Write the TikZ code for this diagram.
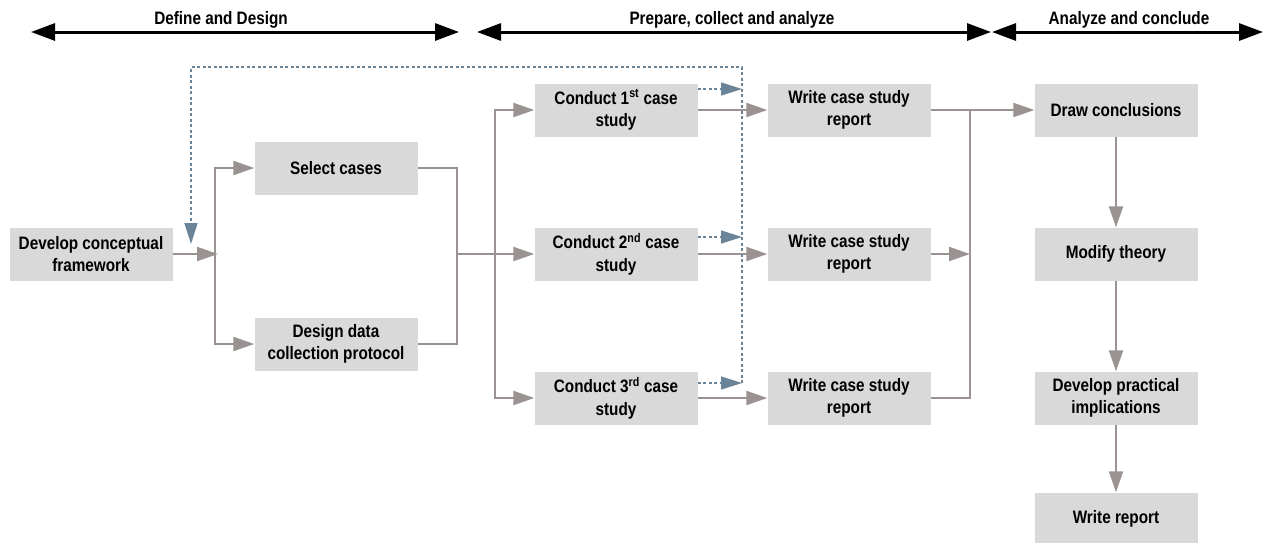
\documentclass[tikz,border=0pt]{standalone}
\usepackage{fontspec}
\setmainfont{Liberation Sans}[FakeStretch=0.85]
\usetikzlibrary{arrows.meta}
\definecolor{boxgray}{HTML}{D9D9D9}
\definecolor{lnk}{HTML}{9B9292}
\definecolor{dsh}{HTML}{6B8498}
\begin{document}
\begin{tikzpicture}[x=1pt,y=-1pt,
  box/.style={fill=boxgray, minimum width=163pt, minimum height=53pt, inner sep=0pt, align=center, font=\fontsize{18}{22.5}\selectfont\bfseries},
  link/.style={draw=lnk, line width=2pt, -{Triangle[length=21pt,width=14pt]}},
  plain/.style={draw=lnk, line width=2pt},
  fb/.style={draw=dsh, line width=1.5pt, dash pattern=on 3pt off 2.5pt},
  fbarrow/.style={fb, -{Triangle[length=21pt,width=13pt]}, dsh},
  phase/.style={line width=3pt, {Triangle[length=24pt,width=17pt]}-{Triangle[length=24pt,width=17pt]}},
  ptitle/.style={font=\fontsize{18}{22.5}\selectfont\bfseries, inner sep=0pt}]
\useasboundingbox (0,0) rectangle (1263,542);

% phase arrows
\coordinate (p1l) at (31,32); \coordinate (p1r) at (459,32);
\coordinate (p2l) at (477,32); \coordinate (p2r) at (991,32);
\coordinate (p3l) at (992,32); \coordinate (p3r) at (1263,32);
\draw[phase] (p1l) -- (p1r);
\draw[phase] (p2l) -- (p2r);
\draw[phase] (p3l) -- (p3r);
\node[ptitle] (t1) at (221,20) {Define and Design};
\node[ptitle] (t2) at (732,20) {Prepare, collect and analyze};
\node[ptitle] (t3) at (1129,20) {Analyze and conclude};

% boxes
\node[box] (dev) at (91,254) {Develop conceptual\\framework};
\node[box] (sel) at (336,168) {Select cases};
\node[box] (ddc) at (336,344) {Design data\\collection protocol};
\node[box] (c1) at (616,110) {Conduct 1\textsuperscript{st} case\\study};
\node[box] (c2) at (616,254) {Conduct 2\textsuperscript{nd} case\\study};
\node[box] (c3) at (616,398) {Conduct 3\textsuperscript{rd} case\\study};
\node[box] (w1) at (849,110) {Write case study\\report};
\node[box] (w2) at (849,254) {Write case study\\report};
\node[box] (w3) at (849,398) {Write case study\\report};
\node[box] (dc) at (1116,110) {Draw conclusions};
\node[box] (mt) at (1116,254) {Modify theory};
\node[box] (dpi) at (1116,398) {Develop practical\\implications};
\node[box] (wr) at (1116,519) {Write report};

% gray connectors
\coordinate (j1) at (215,254);
\draw[link] (dev.east) -- ([xshift=3pt]j1);
\draw[link] (j1) |- (sel.west);
\draw[link] (j1) |- (ddc.west);
\coordinate (j2) at (457,254);
\draw[plain] (sel.east) -| (j2);
\draw[plain] (ddc.east) -| (j2);
\coordinate (j3) at (495,254);
\draw[plain] (j2) -- (j3);
\draw[link] (j3) |- (c1.west);
\draw[link] (j3) -- (c2.west);
\draw[link] (j3) |- (c3.west);
\draw[link] (c1.east) -- (w1.west);
\draw[link] (c2.east) -- (w2.west);
\draw[link] (c3.east) -- (w3.west);
\coordinate (j4) at (970,110);
\coordinate (j5) at (970,254);
\draw[link] (w1.east) -- (dc.west);
\draw[plain] (w3.east) -| (j4);
\draw[link] (w2.east) -- (j5);
\draw[link] (dc.south) -- (mt.north);
\draw[link] (mt.south) -- (dpi.north);
\draw[link] (dpi.south) -- (wr.north);

% dashed feedback
\coordinate (d1) at (742,89);
\coordinate (d2) at (742,237);
\coordinate (d3) at (742,383);
\coordinate (dtr) at (742,67);
\coordinate (dtl) at (191,67);
\coordinate (dtip) at (191,244);
\draw[fbarrow] (c1.east |- d1) -- (d1);
\draw[fbarrow] (c2.east |- d2) -- (d2);
\draw[fbarrow] (c3.east |- d3) -- (d3);
\draw[fbarrow] (d3) -- (dtr) -- (dtl) -- (dtip);
\end{tikzpicture}
\end{document}
